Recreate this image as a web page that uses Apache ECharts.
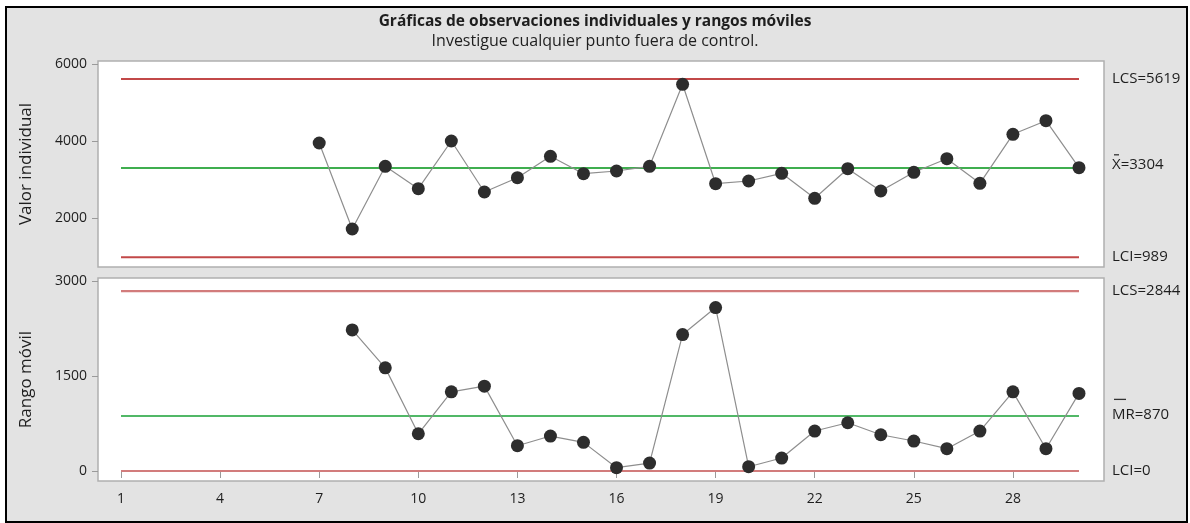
<!DOCTYPE html>
<html>
<head>
<meta charset="utf-8">
<script src="https://cdn.jsdelivr.net/npm/echarts@6/dist/echarts.min.js"></script>
<style>
  html, body { margin: 0; padding: 0; background: #ffffff; }
  #frame { position: absolute; left: 5px; top: 6px; width: 1183px; height: 517px; box-sizing: border-box;
           border: 2px solid #000; background: #e3e3e3; }
  #chart { position: absolute; left: 0; top: 0; width: 1190px; height: 523px; }
</style>
</head>
<body>
<div id="frame"></div>
<div id="chart"></div>
<script>
// ---- Data ----
const titleText = 'Gráficas de observaciones individuales y rangos móviles';
const subtitleText = 'Investigue cualquier punto fuera de control.';

const obsIndividual = [7, 8, 9, 10, 11, 12, 13, 14, 15, 16, 17, 18, 19, 20, 21, 22, 23, 24, 25, 26, 27, 28, 29, 30];
const individualValues = [3956, 1722, 3351, 2769, 4008, 2683, 3055, 3610, 3159, 3229, 3351, 5481, 2899, 2969, 3169, 2519, 3288, 2709, 3195, 3548, 2909, 4182, 4535, 3314];

const obsMovingRange = [8, 9, 10, 11, 12, 13, 14, 15, 16, 17, 18, 19, 20, 21, 22, 23, 24, 25, 26, 27, 28, 29, 30];
const movingRangeValues = [2231, 1631, 589, 1252, 1342, 400, 553, 453, 53, 126, 2158, 2585, 68, 205, 632, 763, 573, 474, 353, 632, 1252, 353, 1227];

const limitsIndividual = { lcs: 5619, center: 3304, lci: 989 };
const limitsMovingRange = { lcs: 2844, center: 870, lci: 0 };

const xFirst = 1, xLast = 30;
const xTickLabels = [1, 4, 7, 10, 13, 16, 19, 22, 25, 28];
const yTicksIndividual = [2000, 4000, 6000];
const yTicksMovingRange = [0, 1500, 3000];

// ---- Style ----
const FONT = "'Open Sans', 'Noto Sans', sans-serif";
const TXT = '#1e1e1e';
const TICK = '#9a9a9a';

const chart = echarts.init(document.getElementById('chart'), null, { renderer: 'canvas' });

function pairs(xs, ys) { return xs.map((x, i) => [x, ys[i]]); }
function hline(y) { return [[xFirst, y], [xLast, y]]; }
function plain(v) { return String(v); }

function rightLabel(limits, kind) {
  return function (v) {
    if (v === limits.lcs) return '{t|LCS=' + limits.lcs + '}';
    if (v === limits.lci) return '{t|LCI=' + limits.lci + '}';
    if (kind === 'I') return '{sp| }{barX| }\n{t|X=' + limits.center + '}\n{padX| }';
    return '{sp| }{barM| }\n{t|MR=' + limits.center + '}\n{padM| }';
  };
}

const richRight = {
  t: { fontSize: 15, lineHeight: 15, color: TXT, fontFamily: FONT },
  sp: { width: 2, height: 1, lineHeight: 1, fontSize: 1 },
  barX: { width: 5, height: 1.3, lineHeight: 5.6, backgroundColor: '#333', fontSize: 1 },
  barM: { width: 12, height: 1.3, lineHeight: 15, backgroundColor: '#333', fontSize: 1 },
  padX: { lineHeight: 11.6, fontSize: 1 },
  padM: { lineHeight: 18.2, fontSize: 1 }
};

const option = {
  backgroundColor: 'transparent',
  animation: false,
  textStyle: { fontFamily: FONT },
  title: {
    text: titleText,
    subtext: subtitleText,
    left: 'center',
    top: 8,
    itemGap: 1,
    textStyle: { fontSize: 15.5, fontWeight: 'bold', color: TXT, lineHeight: 18, fontFamily: FONT },
    subtextStyle: { fontSize: 16, color: TXT, lineHeight: 18, fontFamily: FONT }
  },
  grid: [
    { left: 98, top: 61, width: 1006, height: 206, show: true, backgroundColor: '#ffffff', borderColor: '#b0b0b0', borderWidth: 1.5 },
    { left: 98, top: 278, width: 1006, height: 203, show: true, backgroundColor: '#ffffff', borderColor: '#b0b0b0', borderWidth: 1.5 }
  ],
  xAxis: [
    { type: 'value', gridIndex: 0, min: 0.3037, max: 30.757, show: false },
    {
      type: 'value', gridIndex: 1, min: 0.3037, max: 30.757,
      axisLine: { show: false },
      splitLine: { show: false },
      axisTick: { show: true, length: 7, lineStyle: { color: TICK, width: 1 }, customValues: xTickLabels },
      axisLabel: { customValues: xTickLabels, margin: 11, fontSize: 14, color: TXT, fontFamily: FONT, formatter: plain }
    }
  ],
  yAxis: [
    {
      type: 'value', gridIndex: 0, min: 735, max: 6086,
      name: 'Valor individual', nameLocation: 'middle', nameGap: 63,
      nameTextStyle: { fontSize: 17, color: TXT, fontFamily: FONT },
      axisLine: { show: false }, splitLine: { show: false },
      axisTick: { show: true, length: 6, lineStyle: { color: TICK }, customValues: yTicksIndividual },
      axisLabel: { customValues: yTicksIndividual, margin: 11, fontSize: 14, color: TXT, fontFamily: FONT, formatter: plain }
    },
    {
      type: 'value', gridIndex: 1, min: -158, max: 3052,
      name: 'Rango móvil', nameLocation: 'middle', nameGap: 63,
      nameTextStyle: { fontSize: 17, color: TXT, fontFamily: FONT },
      axisLine: { show: false }, splitLine: { show: false },
      axisTick: { show: true, length: 6, lineStyle: { color: TICK }, customValues: yTicksMovingRange },
      axisLabel: { customValues: yTicksMovingRange, margin: 11, fontSize: 14, color: TXT, fontFamily: FONT, formatter: plain }
    },
    {
      type: 'value', gridIndex: 0, min: 735, max: 6086, position: 'right',
      axisLine: { show: false }, splitLine: { show: false }, axisTick: { show: false },
      axisLabel: {
        customValues: [limitsIndividual.lci, limitsIndividual.center, limitsIndividual.lcs],
        margin: 8, formatter: rightLabel(limitsIndividual, 'I'), rich: richRight, color: TXT, fontSize: 15
      }
    },
    {
      type: 'value', gridIndex: 1, min: -158, max: 3052, position: 'right',
      axisLine: { show: false }, splitLine: { show: false }, axisTick: { show: false },
      axisLabel: {
        customValues: [limitsMovingRange.lci, limitsMovingRange.center, limitsMovingRange.lcs],
        margin: 8, formatter: rightLabel(limitsMovingRange, 'M'), rich: richRight, color: TXT, fontSize: 15
      }
    }
  ],
  series: [
    // Individual chart control lines
    { type: 'line', xAxisIndex: 0, yAxisIndex: 0, data: hline(limitsIndividual.lcs), showSymbol: false, silent: true, lineStyle: { color: '#c24848', width: 2 }, z: 1 },
    { type: 'line', xAxisIndex: 0, yAxisIndex: 0, data: hline(limitsIndividual.center), showSymbol: false, silent: true, lineStyle: { color: '#3fae4f', width: 2 }, z: 1 },
    { type: 'line', xAxisIndex: 0, yAxisIndex: 0, data: hline(limitsIndividual.lci), showSymbol: false, silent: true, lineStyle: { color: '#c24848', width: 2 }, z: 1 },
    {
      type: 'line', xAxisIndex: 0, yAxisIndex: 0, data: pairs(obsIndividual, individualValues),
      symbol: 'circle', symbolSize: 13, showAllSymbol: true,
      itemStyle: { color: '#2d2d2d' }, lineStyle: { color: '#8e8e8e', width: 1.2 }, z: 3
    },
    // Moving range chart control lines
    { type: 'line', xAxisIndex: 1, yAxisIndex: 1, data: hline(limitsMovingRange.lcs), showSymbol: false, silent: true, lineStyle: { color: '#d27c7c', width: 2.2 }, z: 1 },
    { type: 'line', xAxisIndex: 1, yAxisIndex: 1, data: hline(limitsMovingRange.center), showSymbol: false, silent: true, lineStyle: { color: '#17a035', width: 1.6 }, z: 1 },
    { type: 'line', xAxisIndex: 1, yAxisIndex: 1, data: hline(limitsMovingRange.lci), showSymbol: false, silent: true, lineStyle: { color: '#d27c7c', width: 2.2 }, z: 1 },
    {
      type: 'line', xAxisIndex: 1, yAxisIndex: 1, data: pairs(obsMovingRange, movingRangeValues),
      symbol: 'circle', symbolSize: 13, showAllSymbol: true,
      itemStyle: { color: '#2d2d2d' }, lineStyle: { color: '#8e8e8e', width: 1.2 }, z: 3
    }
  ]
};

chart.setOption(option);
</script>
</body>
</html>
